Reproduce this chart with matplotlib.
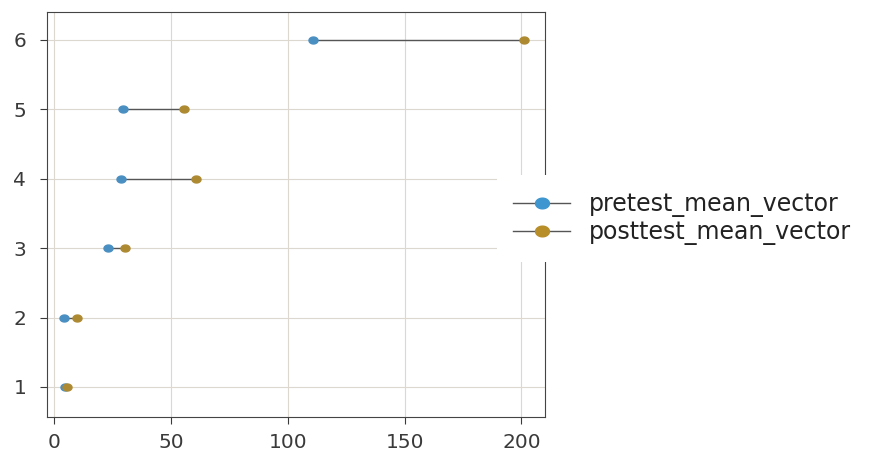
import numpy as np
import matplotlib.pyplot as plt
from matplotlib.path import Path

# dumbbell data: one row per index
rows = [1, 2, 3, 4, 5, 6]
pretest_mean_vector = [4.5, 4.3, 23.0, 28.7, 29.5, 111.0]
posttest_mean_vector = [5.5, 9.8, 30.4, 60.8, 55.7, 201.0]

pre_color = '#4a8fc2'
post_color = '#ad8a32'

# the reference is a little stretched sideways, so use a wide oval marker
t = np.linspace(0, 2 * np.pi, 40)
oval = Path(np.column_stack([1.3 * np.cos(t), np.sin(t)]), closed=True)

fig, ax = plt.subplots(figsize=(8.73, 4.53), dpi=100)
fig.subplots_adjust(left=0.054, right=0.624, top=0.973, bottom=0.08)

ax.hlines(rows, pretest_mean_vector, posttest_mean_vector, color='#555555', lw=1, zorder=2)
ax.plot(pretest_mean_vector, rows, marker=oval, ls='none', color=pre_color, ms=6.5, zorder=3)
ax.plot(posttest_mean_vector, rows, marker=oval, ls='none', color=post_color, ms=6.5, zorder=3)

ax.set_xlim(-3, 210)
ax.set_ylim(0.57, 6.4)
ax.set_xticks([0, 50, 100, 150, 200])
ax.set_yticks(rows)
ax.grid(True, color='#dcd8d0', lw=0.8)
ax.set_axisbelow(True)
for s in ax.spines.values():
    s.set_color('#444444')
ax.tick_params(labelsize=14.5, colors='#3a3a3a', direction='out', length=5)
ax.tick_params(axis='y', pad=10)
ax.tick_params(axis='x', pad=7)

# legend handles: line through a big marker
h1, = ax.plot([], [], '-', marker=oval, color='#555555', mfc='#3d96d0', mec='#3d96d0', ms=10, lw=1)
h2, = ax.plot([], [], '-', marker=oval, color='#555555', mfc='#b88e28', mec='#b88e28', ms=10, lw=1)
leg = ax.legend([h1, h2], ['pretest_mean_vector', 'posttest_mean_vector'],
                loc='center left', bbox_to_anchor=(0.88, 0.49), fontsize=17,
                frameon=True, framealpha=1, handlelength=2.4, handletextpad=0.8,
                labelspacing=0.15, borderpad=0.7)
leg.get_frame().set_linewidth(0)
for txt in leg.get_texts():
    txt.set_color('#222222')

fig.savefig('out.png', dpi=100)
